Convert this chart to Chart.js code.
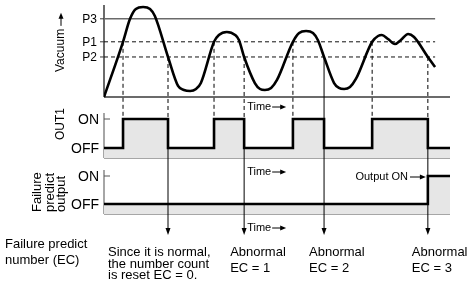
<!DOCTYPE html>
<html>
<head>
<meta charset="utf-8">
<script src="https://cdn.jsdelivr.net/npm/chart.js@4.4.0/dist/chart.umd.min.js"></script>
<style>
  html, body { margin: 0; padding: 0; background: #fff; }
  #timing { display: block; }
</style>
</head>
<body>
<canvas id="timing" width="472" height="284"></canvas>
<script>
// Vacuum curve (time in arbitrary units, vacuum in %)
const vacuumTime = [0, 5.5, 7.5, 9.2, 11.3, 13.3, 14.7, 18.5, 21.4, 23.1, 24.9, 26.6, 28.0, 31.8,
    33.2, 35.5, 37.9, 39.0, 40.5, 43.6, 45.1, 46.5, 48.3, 50.0, 54.6, 56.4, 58.4, 60.4, 61.8, 63.6,
    66.5, 67.9, 69.4, 71.1, 72.8, 77.5, 79.2, 80.3, 82.1, 84.1, 85.8, 87.9, 89.6, 93.6, 95.7];
const vacuumLevel = [0, 60, 84.8, 95.7, 97.8, 95.7, 88.0, 43.5, 12.0, 7.6, 6.5, 8.7, 15.2, 60,
    67.4, 70.7, 67.4, 62.0, 43.5, 15.2, 8.7, 7.6, 9.8, 18.5, 60, 69.6, 71.7, 69.6, 62.0, 43.5,
    15.2, 9.8, 8.7, 10.9, 19.6, 60, 66.3, 67.4, 63.0, 57.6, 62.0, 68.5, 65.2, 43.5, 32.6];

// Threshold settings
const thresholdNames = ['P3', 'P1', 'P2'];
const thresholdValues = [85, 60, 43.5];

// OUT1 switching output (1 = ON, 0 = OFF), value holds from that time on
const out1Time = [0, 5.5, 18.5, 31.8, 40.5, 54.6, 63.6, 77.5, 93.6, 100];
const out1State = [0, 1, 0, 1, 0, 1, 0, 1, 0, 0];

// Failure predict output
const failTime = [0, 93.6, 100];
const failState = [0, 1, 1];

// Failure predict number (EC) checks, done each time OUT1 turns OFF
const ecTimes = [18.5, 40.5, 63.6, 93.6];
const ecLabels = [
    ['Since it is normal,', 'the number count', 'is reset EC = 0.'],
    ['Abnormal', 'EC = 1'],
    ['Abnormal', 'EC = 2'],
    ['Abnormal', 'EC = 3']
];

// ---- layout of the three panels on one canvas ----
const AREA_TOP = 5;
const AREA_BOTTOM = 240;

// min/max of an axis so that valA sits at pixel pxA and valB at pixel pxB
function band(valA, pxA, valB, pxB) {
    const k = (pxA - pxB) / (valB - valA);
    return { min: valA - (AREA_BOTTOM - pxA) / k, max: valA + (pxA - AREA_TOP) / k };
}

const OUT1_BASE = -0.345;
const FAIL_BASE = -0.36;
const FONT = '"Liberation Sans", Arial, Helvetica, sans-serif';

function points(xs, ys) {
    return xs.map((x, i) => ({ x: x, y: ys[i] }));
}

const thresholdSets = thresholdNames.map((name, i) => ({
    label: name,
    data: [{ x: 0, y: thresholdValues[i] }, { x: vacuumTime[vacuumTime.length - 1], y: thresholdValues[i] }],
    yAxisID: 'yV',
    borderColor: i === 0 ? '#6a6a6a' : '#111',
    borderWidth: i === 0 ? 1.6 : 1,
    borderDash: i === 0 ? [] : [4, 3],
    pointRadius: 0,
    fill: false,
    order: 5
}));

function arrowDown(ctx, x, y1, y2) {
    ctx.beginPath();
    ctx.moveTo(x, y1);
    ctx.lineTo(x, y2 - 5);
    ctx.stroke();
    ctx.beginPath();
    ctx.moveTo(x - 2.5, y2 - 7);
    ctx.lineTo(x + 2.5, y2 - 7);
    ctx.lineTo(x, y2);
    ctx.closePath();
    ctx.fill();
}

function arrowRight(ctx, x1, x2, y) {
    ctx.beginPath();
    ctx.moveTo(x1, y);
    ctx.lineTo(x2 - 4, y);
    ctx.stroke();
    ctx.beginPath();
    ctx.moveTo(x2 - 6, y - 2.5);
    ctx.lineTo(x2 - 6, y + 2.5);
    ctx.lineTo(x2, y);
    ctx.closePath();
    ctx.fill();
}

function line(ctx, x1, y1, x2, y2) {
    ctx.beginPath();
    ctx.moveTo(x1, y1);
    ctx.lineTo(x2, y2);
    ctx.stroke();
}

// Axes, guide lines, arrows and all the texts
const timingDecor = {
    id: 'timingDecor',
    beforeDatasetsDraw(chart) {
        const ctx = chart.ctx;
        const x = chart.scales.x, yV = chart.scales.yV, yO = chart.scales.yO, yF = chart.scales.yF;
        const x0 = x.getPixelForValue(0), x1 = x.getPixelForValue(100);
        ctx.save();
        // vacuum panel axes
        ctx.strokeStyle = '#3a3a3a';
        ctx.lineWidth = 1.5;
        line(ctx, x0, yV.getPixelForValue(100), x0, yV.getPixelForValue(0));
        line(ctx, x0, yV.getPixelForValue(0), x1, yV.getPixelForValue(0));
        ctx.lineWidth = 1;
        thresholdValues.forEach(v => line(ctx, x0 - 4, yV.getPixelForValue(v), x0, yV.getPixelForValue(v)));
        // OUT1 and failure panels
        ctx.strokeStyle = '#888';
        ctx.lineWidth = 1.5;
        [[yO, OUT1_BASE], [yF, FAIL_BASE]].forEach(([s, base]) => {
            line(ctx, x0, s.getPixelForValue(1) - 6, x0, s.getPixelForValue(base));
            line(ctx, x0, s.getPixelForValue(base), x1, s.getPixelForValue(base));
        });
        ctx.restore();
    },
    afterDatasetsDraw(chart) {
        const ctx = chart.ctx;
        const x = chart.scales.x, yV = chart.scales.yV, yO = chart.scales.yO, yF = chart.scales.yF;
        const x0 = x.getPixelForValue(0);
        ctx.save();
        ctx.strokeStyle = '#000';
        ctx.fillStyle = '#000';
        ctx.lineWidth = 1;

        // ON ticks
        ctx.strokeStyle = '#555';
        line(ctx, x0, yO.getPixelForValue(1), x0 + 6, yO.getPixelForValue(1));
        line(ctx, x0, yF.getPixelForValue(1), x0 + 6, yF.getPixelForValue(1));
        ctx.strokeStyle = '#000';

        // guides from threshold crossings down to OUT1
        for (let i = 1; i < out1Time.length; i++) {
            if (out1State[i] === out1State[i - 1]) continue;
            const t = out1Time[i];
            const th = out1State[i] ? thresholdValues[1] : thresholdValues[2];
            const px = x.getPixelForValue(t);
            // the EC = 2 guide is drawn solid in the original
            ctx.setLineDash(t === ecTimes[2] ? [] : [4, 3]);
            line(ctx, px, yV.getPixelForValue(th), px, yO.getPixelForValue(1));
        }
        ctx.setLineDash([]);

        // EC arrows
        ecTimes.forEach(t => {
            const px = x.getPixelForValue(t);
            arrowDown(ctx, px, yO.getPixelForValue(1), 235);
        });

        // Time arrows
        ctx.font = '11px ' + FONT;
        ctx.textAlign = 'left';
        ctx.textBaseline = 'middle';
        const tx = x.getPixelForValue(ecTimes[1]) + 3;
        [107, 172, 228].forEach(y => {
            ctx.fillText('Time', tx, y);
            const w = ctx.measureText('Time').width;
            arrowRight(ctx, tx + w + 1, tx + w + 15, y);
        });
        ctx.textAlign = 'right';
        ctx.fillText('Output ON', 408, yF.getPixelForValue(1) + 1);
        arrowRight(ctx, 410, x.getPixelForValue(ecTimes[3]) - 2, yF.getPixelForValue(1) + 1);

        // threshold names
        ctx.font = '12px ' + FONT;
        ctx.textAlign = 'right';
        thresholdNames.forEach((n, i) => ctx.fillText(n, 97, yV.getPixelForValue(thresholdValues[i]) + 1));

        // ON / OFF
        ctx.font = '14px ' + FONT;
        ctx.fillText('ON', 99, yO.getPixelForValue(1) + 1);
        ctx.fillText('OFF', 99, yO.getPixelForValue(0) + 1);
        ctx.fillText('ON', 99, yF.getPixelForValue(1) + 1);
        ctx.fillText('OFF', 99, yF.getPixelForValue(0) + 1);

        // rotated panel titles
        ctx.font = '12px ' + FONT;
        ctx.save();
        ctx.translate(61, 72);
        ctx.rotate(-Math.PI / 2);
        ctx.textAlign = 'left';
        ctx.fillText('Vacuum', 0, 0);
        const vw = ctx.measureText('Vacuum').width;
        arrowRight(ctx, vw + 3, vw + 16, 0);
        ctx.restore();

        ctx.save();
        ctx.translate(61, 124);
        ctx.rotate(-Math.PI / 2);
        ctx.textAlign = 'center';
        ctx.fillText('OUT1', 0, 0);
        ctx.restore();

        ctx.font = '13px ' + FONT;
        [['Failure', 37], ['predict', 50], ['output', 61]].forEach(([s, cx]) => {
            ctx.save();
            ctx.translate(cx, 212);
            ctx.rotate(-Math.PI / 2);
            ctx.textAlign = 'left';
            ctx.fillText(s, 0, 0);
            ctx.restore();
        });

        // bottom notes
        ctx.textAlign = 'left';
        ctx.textBaseline = 'alphabetic';
        ctx.fillText('Failure predict', 5, 248);
        ctx.fillText('number (EC)', 5, 264);
        const offsets = [-60, -14, -15, -16];
        ecLabels.forEach((lines, i) => {
            const lx = x.getPixelForValue(ecTimes[i]) + offsets[i];
            const step = lines.length > 2 ? 11.5 : 16;
            lines.forEach((s, j) => ctx.fillText(s, lx, 256 + j * step));
        });
        ctx.restore();
    }
};

const ctx = document.getElementById('timing').getContext('2d');
new Chart(ctx, {
    type: 'line',
    data: {
        datasets: [
            {
                label: 'Vacuum',
                data: points(vacuumTime, vacuumLevel),
                yAxisID: 'yV',
                borderColor: '#000',
                borderWidth: 2.6,
                pointRadius: 0,
                cubicInterpolationMode: 'monotone',
                fill: false,
                order: 0
            },
            ...thresholdSets,
            {
                label: 'OUT1',
                data: points(out1Time, out1State),
                yAxisID: 'yO',
                stepped: true,
                borderColor: '#000',
                borderWidth: 2.6,
                backgroundColor: '#e6e6e6',
                fill: { value: OUT1_BASE },
                pointRadius: 0,
                order: 1
            },
            {
                label: 'Failure predict output',
                data: points(failTime, failState),
                yAxisID: 'yF',
                stepped: true,
                borderColor: '#000',
                borderWidth: 2.6,
                backgroundColor: '#e6e6e6',
                fill: { value: FAIL_BASE },
                pointRadius: 0,
                order: 2
            }
        ]
    },
    options: {
        responsive: false,
        animation: false,
        events: [],
        layout: { padding: { left: 104, right: 22, top: AREA_TOP, bottom: 284 - AREA_BOTTOM } },
        scales: {
            x: { type: 'linear', min: 0, max: 100, display: false },
            yV: Object.assign({ type: 'linear', display: false }, band(0, 97, 100, 5)),
            yO: Object.assign({ type: 'linear', display: false }, band(0, 148, 1, 119)),
            yF: Object.assign({ type: 'linear', display: false }, band(0, 204, 1, 176))
        },
        plugins: {
            legend: { display: false },
            tooltip: { enabled: false }
        }
    },
    plugins: [timingDecor]
});
</script>
</body>
</html>
